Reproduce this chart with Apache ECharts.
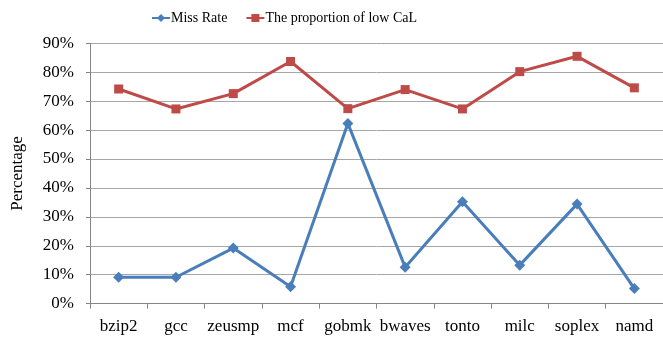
<!DOCTYPE html>
<html>
<head>
<meta charset="utf-8">
<script src="https://cdn.jsdelivr.net/npm/echarts@6/dist/echarts.min.js"></script>
<style>
html,body{margin:0;padding:0;background:#fff;}
#chart{width:663px;height:338px;}
</style>
</head>
<body>
<div id="chart"></div>
<script>
var categories = ['bzip2','gcc','zeusmp','mcf','gobmk','bwaves','tonto','milc','soplex','namd'];
var missRate = [9.1, 9.1, 19.2, 5.8, 62.3, 12.6, 35.2, 13.3, 34.4, 5.2];
var lowCaL = [74.2, 67.3, 72.6, 83.7, 67.4, 74.0, 67.3, 80.2, 85.5, 74.6];
var seriesNames = ['Miss Rate', 'The proportion of low CaL'];
var yTicks = {min: 0, max: 90, interval: 10};
var font = 'Liberation Serif';

var chart = echarts.init(document.getElementById('chart'), null, {renderer: 'canvas'});
chart.setOption({
  animation: false,
  backgroundColor: '#fff',
  legend: {
    left: 146, top: 6,
    itemWidth: 18, itemHeight: 10, itemGap: 18,
    textStyle: {fontFamily: font, fontSize: 14, color: '#000', padding: [0,0,0,-4]},
    data: seriesNames
  },
  grid: {left: 90, top: 43.3, width: 574, bottom: 34.4, containLabel: false},
  xAxis: {
    type: 'category',
    data: categories,
    boundaryGap: true,
    axisLine: {lineStyle: {color: '#868686', width: 1}},
    axisTick: {show: true, length: 5, lineStyle: {color: '#868686'}},
    axisLabel: {fontFamily: font, fontSize: 17, color: '#000', margin: 14, interval: 0}
  },
  yAxis: {
    type: 'value',
    min: yTicks.min, max: yTicks.max, interval: yTicks.interval,
    name: 'Percentage',
    nameLocation: 'middle',
    nameGap: 64,
    nameRotate: 90,
    nameTextStyle: {fontFamily: font, fontSize: 17, color: '#000'},
    axisLine: {show: true, lineStyle: {color: '#868686', width: 1}},
    axisTick: {show: true, length: 4, lineStyle: {color: '#868686'}},
    axisLabel: {fontFamily: font, fontSize: 17, color: '#000', margin: 16, formatter: '{value}%'},
    splitLine: {show: true, lineStyle: {color: '#a6a6a6', width: 1}}
  },
  series: [
    {
      name: seriesNames[0],
      type: 'line',
      data: missRate,
      symbol: 'diamond',
      symbolSize: 11,
      lineStyle: {color: '#4a7ebb', width: 3},
      itemStyle: {color: '#4a7ebb'}
    },
    {
      name: seriesNames[1],
      type: 'line',
      data: lowCaL,
      symbol: 'rect',
      symbolSize: 9,
      lineStyle: {color: '#be4b48', width: 3},
      itemStyle: {color: '#be4b48'}
    }
  ]
});
</script>
</body>
</html>
